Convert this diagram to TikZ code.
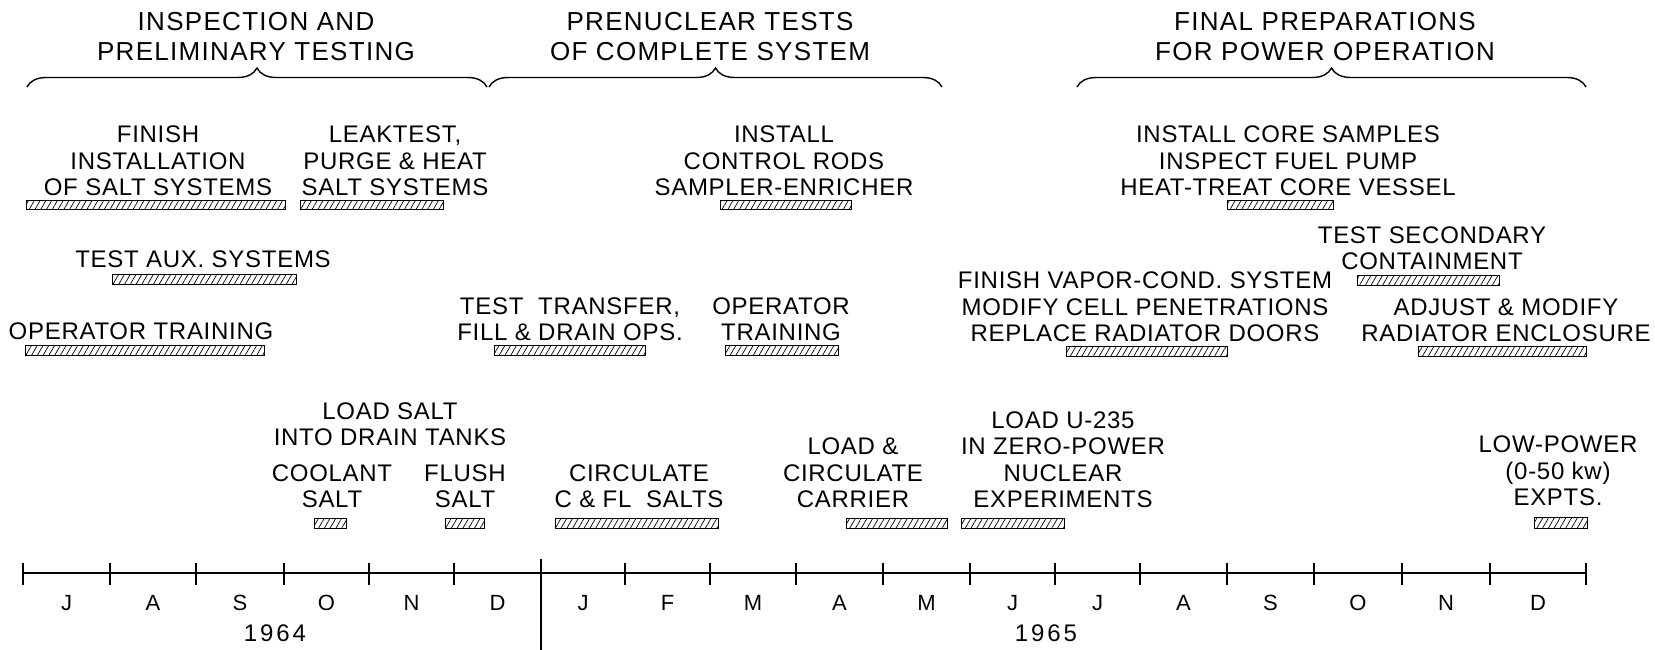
\documentclass[tikz,border=0pt]{standalone}
\usepackage{fontspec}
\setmainfont{Liberation Sans}[LetterSpace=3]
\newfontfamily\hdrfont{Liberation Sans}[LetterSpace=5]
\newfontfamily\yearfont{Liberation Sans}[LetterSpace=12]
\usetikzlibrary{patterns.meta,decorations.pathreplacing,fit}
\tikzset{
  lbl/.style={font=\fontsize{24}{26.5}\selectfont, align=center, inner sep=0pt, text depth=0pt, anchor=south},
  hdr/.style={font=\hdrfont\fontsize{26}{30}\selectfont, align=center, inner sep=0pt, text depth=0pt, anchor=south},
  mon/.style={font=\fontsize{22}{24}\selectfont, inner sep=0pt, anchor=base},
  yr/.style={font=\yearfont\fontsize{24}{26}\selectfont, inner sep=0pt, anchor=base},
  barbox/.style={draw, line width=1pt, inner sep=0pt,
    pattern={Lines[angle=60,distance=5pt,line width=0.7pt]}},
  bracepath/.style={decorate, decoration={brace, amplitude=19pt}, line width=1.4pt},
  axisline/.style={line width=1.3pt}
}
\begin{document}
\begin{tikzpicture}[x=1pt,y=-1pt]
\useasboundingbox (0,0) rectangle (1655,650);
\fill[white] (0,0) rectangle (1655,650);

% headers
\node[hdr] (h1) at (256,61) {INSPECTION AND\\PRELIMINARY TESTING};
\node[hdr] (h2) at (710,61) {PRENUCLEAR TESTS\\OF COMPLETE SYSTEM};
\node[hdr] (h3) at (1325,61) {FINAL PREPARATIONS\\FOR POWER OPERATION};

% braces
\coordinate (br1a) at (27,87);  \coordinate (br1b) at (487,87);
\coordinate (br2a) at (489,87); \coordinate (br2b) at (942,87);
\coordinate (br3a) at (1077,87);\coordinate (br3b) at (1586,87);
\draw[bracepath] (br1a) -- (br1b);
\draw[bracepath] (br2a) -- (br2b);
\draw[bracepath] (br3a) -- (br3b);

% row 1
\node[lbl] (l1) at (158,196) {FINISH\\INSTALLATION\\OF SALT SYSTEMS};
\node[lbl] (l2) at (395,196) {LEAKTEST,\\PURGE \& HEAT\\SALT SYSTEMS};
\node[lbl] (l3) at (784,196) {INSTALL\\CONTROL RODS\\SAMPLER-ENRICHER};
\node[lbl] (l4) at (1288,196) {INSTALL CORE SAMPLES\\INSPECT FUEL PUMP\\HEAT-TREAT CORE VESSEL};
\node[barbox, fit={(26,200) (285,209)}] (b1) {};
\node[barbox, fit={(300,200) (443,209)}] (b2) {};
\node[barbox, fit={(720,200) (851,209)}] (b3) {};
\node[barbox, fit={(1227,200) (1333,209)}] (b4) {};

% row 2
\node[lbl] (l5) at (203,268) {TEST AUX. SYSTEMS};
\node[barbox, fit={(112,274) (296,284)}] (b5) {};
\node[lbl] (l6) at (1432,270) {TEST SECONDARY\\CONTAINMENT};
\node[barbox, fit={(1357,275) (1499,285)}] (b6) {};

\node[lbl] (l7) at (141,340) {OPERATOR TRAINING};
\node[barbox, fit={(25,345) (264,355)}] (b7) {};
\node[lbl] (l8) at (570,341) {TEST\ \ TRANSFER,\\FILL \& DRAIN OPS.};
\node[barbox, fit={(494,345) (645,355)}] (b8) {};
\node[lbl] (l9) at (781,341) {OPERATOR\\TRAINING};
\node[barbox, fit={(725,345) (838,355)}] (b9) {};
\node[lbl] (l10) at (1145,342) {FINISH VAPOR-COND. SYSTEM\\MODIFY CELL PENETRATIONS\\REPLACE RADIATOR DOORS};
\node[barbox, fit={(1066,346) (1227,356)}] (b10) {};
\node[lbl] (l11) at (1506,342) {ADJUST \& MODIFY\\RADIATOR ENCLOSURE};
\node[barbox, fit={(1418,346) (1586,356)}] (b11) {};

% row 3
\node[lbl] (l12) at (390,446) {LOAD SALT\\INTO DRAIN TANKS};
\node[lbl] (l13) at (332,508) {COOLANT\\SALT};
\node[barbox, fit={(314,518) (346,528)}] (b12) {};
\node[lbl] (l14) at (465,508) {FLUSH\\SALT};
\node[barbox, fit={(445,518) (484,528)}] (b13) {};
\node[lbl] (l15) at (639,508) {CIRCULATE\\C \& FL\ \ SALTS};
\node[barbox, fit={(555,518) (718,528)}] (b14) {};
\node[lbl] (l16) at (853,508) {LOAD \&\\CIRCULATE\\CARRIER};
\node[barbox, fit={(846,518) (947,528)}] (b15) {};
\node[lbl] (l17) at (1063,508) {LOAD U-235\\IN ZERO-POWER\\NUCLEAR\\EXPERIMENTS};
\node[barbox, fit={(961,518) (1064,528)}] (b16) {};
\node[lbl] (l18) at (1558,506) {LOW-POWER\\(0-50 kw)\\EXPTS.};
\node[barbox, fit={(1534,517) (1587,528)}] (b17) {};

% time axis
\coordinate (ax0) at (23,573);
\coordinate (ax1) at (1586,573);
\draw[axisline] (ax0) -- (ax1);
\foreach \x in {23,110,196,284,369,454,625,710,796,883,970,1055,1140,1227,1314,1402,1490,1586}
  \draw[axisline] (\x,563) -- (\x,585);
\coordinate (yd0) at (541,559);
\coordinate (yd1) at (541,650);
\draw[line width=1.5pt] (yd0) -- (yd1);

\foreach \a/\b/\m/\i in {23/110/J/1,110/196/A/2,196/284/S/3,284/369/O/4,369/454/N/5,454/541/D/6,
  541/625/J/7,625/710/F/8,710/796/M/9,796/883/A/10,883/970/M/11,970/1055/J/12,
  1055/1140/J/13,1140/1227/A/14,1227/1314/S/15,1314/1402/O/16,1402/1490/N/17,1490/1586/D/18}
  \node[mon] (mon\i) at ({(\a+\b)/2},610) {\m};

\node[yr] (y64) at (275,641) {1964};
\node[yr] (y65) at (1046,641) {1965};
\end{tikzpicture}
\end{document}
